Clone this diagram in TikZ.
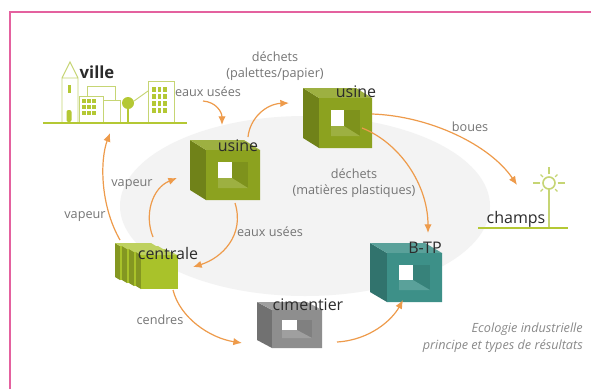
\documentclass[tikz,border=0pt]{standalone}
\usepackage{fontspec}
\setmainfont{Open Sans}
\usetikzlibrary{arrows.meta}

\definecolor{frame}{HTML}{E4619F}
\definecolor{flow}{HTML}{EE9B4B}
\definecolor{olive}{HTML}{8CA21F}
\definecolor{lime}{HTML}{A9C22A}
\definecolor{stone}{HTML}{8E8E8E}
\definecolor{sea}{HTML}{3D9088}
\definecolor{leaf}{HTML}{C6D574}
\definecolor{grass}{HTML}{B4C834}
\definecolor{ink}{HTML}{2B2B2B}
\definecolor{note}{HTML}{757575}
\definecolor{haze}{HTML}{F3F3F3}

% Hollow box seen from the upper left:
% #1,#2 front top-left corner, #3,#4 front width/height,
% #5,#6 shift towards the back face, #7 rim width, #8 colour
\newcommand{\hollowbox}[8]{%
  \fill[#8!80!black] ({#1},{#2}) -- ({#1-#5},{#2-#6}) -- ({#1-#5},{#2+#4-#6}) -- ({#1},{#2+#4}) -- cycle;
  \fill[#8!85!white] ({#1},{#2}) -- ({#1-#5},{#2-#6}) -- ({#1+#3-#5},{#2-#6}) -- ({#1+#3},{#2}) -- cycle;
  \fill[#8, even odd rule] ({#1},{#2}) rectangle ({#1+#3},{#2+#4})
       ({#1+#7},{#2+#7}) rectangle ({#1+#3-#7},{#2+#4-#7});
  \begin{scope}
    \clip ({#1+#7},{#2+#7}) rectangle ({#1+#3-#7},{#2+#4-#7});
    \fill[#8!90!black] ({#1+#7},{#2+#7}) rectangle ({#1+#3-#7},{#2+#4-#7});
    \fill[#8!85!white] ({#1+#7-#5},{#2+#4-#7-#6}) -- ({#1+#3-#7-#5},{#2+#4-#7-#6})
       -- ({#1+#3-#7},{#2+#4-#7}) -- ({#1+#7},{#2+#4-#7}) -- cycle;
    \fill[white] ({#1+#7},{#2+#7}) rectangle ({#1+#3-#7-#5},{#2+#4-#7-#6});
  \end{scope}}

\begin{document}
\begin{tikzpicture}[x=0.75pt,y=-0.75pt,
  flowarrow/.style={draw=flow, line width=0.9pt, -{Latex[length=6.5pt,width=5.5pt]}},
  thing/.style={text=ink, font=\fontsize{12}{14}\selectfont, inner sep=0pt},
  tag/.style={text=note, font=\fontsize{9.5}{12}\selectfont, inner sep=0pt, align=center},
  sketch/.style={draw=leaf, line width=0.7pt},
  pane/.style={fill=grass}]

\useasboundingbox (0,0) rectangle (591,389);
\fill[white] (0,0) rectangle (591,389);
\draw[frame, line width=0.8pt] (10,389) -- (10,12) -- (591,12);

% background halo
\fill[haze] (305,206) ellipse [x radius=138.75pt, y radius=67.5pt];

% --- town ---
\draw[sketch] (62,122) -- (62,78) -- (70,62) -- (78,78) -- (78,122) (62,78) -- (78,78);
\fill[pane] (68,85) rectangle (71,93);
\fill[pane, rounded corners=1.5pt] (66.5,110) rectangle (71.5,122);
\draw[sketch] (87,96) -- (87,86) -- (115,86) -- (115,100);
\draw[sketch] (79,122) -- (79,96) -- (103,96) -- (103,122);
\foreach \c in {0,1,2} \foreach \r in {0,1,2}
  \fill[pane] ({82+5*\c},{99+6*\r}) rectangle ++(3.5,4);
\draw[sketch] (103,100) -- (120,100) -- (120,122);
\fill[pane] (128,103) circle [radius=4.5pt];
\draw[grass, line width=1.4pt] (128,106) -- (128,122);
\draw[sketch] (134,101) -- (148,91);
\draw[sketch] (148,122) -- (148,81) -- (174,81) -- (174,122);
\foreach \c in {0,1,2} \foreach \r in {0,1,2,3}
  \fill[pane] ({152+5.5*\c},{87+7*\r}) rectangle ++(3.5,5);
\draw[grass, line width=2.2pt] (43,123) -- (187,123);
\node[thing, font=\fontsize{12.5}{14}\selectfont\bfseries] (ville) at (97,72) {ville};

% --- fields ---
\draw[leaf, line width=1.2pt] (549,183) circle [radius=4.5pt];
\foreach \a in {0,90,180,270}
  \draw[leaf, line width=1pt] ([shift={(\a:6.5pt)}]549,183) -- ([shift={(\a:12pt)}]549,183);
\foreach \a in {45,135,225,315}
  \draw[leaf, line width=1pt] ([shift={(\a:6.5pt)}]549,183) -- ([shift={(\a:9pt)}]549,183);
\draw[leaf, line width=1.2pt] (549,189) -- (549,228);
\draw[grass, line width=1.8pt] (478,228) -- (568,228);
\node[thing] (champs) at (516,219) {champs};

% --- plants ---
\hollowbox{206}{150}{54}{50}{16}{10}{12}{olive}
\node[thing] (usineA) at (238,146) {usine};
\hollowbox{319}{98}{53}{50}{16}{10}{12}{olive}
\node[thing] (usineB) at (356,92) {usine};
\hollowbox{272}{310}{50}{38}{15}{8}{10}{stone}
\node[thing] (cimentier) at (308,305) {cimentier};
\hollowbox{387}{253}{55}{49}{17}{10}{12}{sea}
\node[thing] (btp) at (425,248) {B-TP};

% power station: four stacked slabs
\foreach \i [evaluate=\i as \x using 120+7*\i, evaluate=\i as \y using 246+3*\i] in {0,...,3}{
  \fill[lime!78!black] ({\x-5},{\y-3}) -- (\x,\y) -- (\x,{\y+34}) -- ({\x-5},{\y+31}) -- cycle;
  \fill[lime!75!white] ({\x-5},{\y-3}) -- ({\x+31},{\y-3}) -- ({\x+36},\y) -- (\x,\y) -- cycle;
  \fill[lime] (\x,\y) rectangle ({\x+37},{\y+34});
}
\node[thing] (centrale) at (168,253) {centrale};

% --- flow labels ---
\node[tag] (l-eaux1) at (208,92) {eaux usées};
\node[tag] (l-dechets1) at (275,66) {déchets\\(palettes/papier)};
\node[tag] (l-boues) at (470,127) {boues};
\node[tag] (l-dechets2) at (354,183) {déchets\\(matières plastiques)};
\node[tag] (l-vapeur1) at (132,185) {vapeur};
\node[tag] (l-vapeur2) at (85,217) {vapeur};
\node[tag] (l-eaux2) at (270,232) {eaux usées};
\node[tag] (l-cendres) at (160,320) {cendres};

\node[text=note!85!white, font=\fontsize{9.5}{12.75}\selectfont\itshape, align=right,
      anchor=east, inner sep=0pt] (caption) at (583,338)
  {Ecologie industrielle\\principe et types de résultats};

% --- connector ends ---
\coordinate (villeOut) at (203,101);
\coordinate (usineAin) at (222,125);
\coordinate (usineAup) at (248,137);
\coordinate (usineBin) at (289,103);
\coordinate (usineBright) at (372,114);
\coordinate (champsIn) at (517,185);
\coordinate (usineBlow) at (362,128);
\coordinate (btpIn) at (428,233);
\coordinate (cimOut) at (337,342);
\coordinate (btpBelow) at (403,300);
\coordinate (centraleOut) at (173,290);
\coordinate (cimIn) at (242,343);
\coordinate (usineAlow) at (235,203);
\coordinate (centraleIn) at (193,267);
\coordinate (centraleUp) at (153,237);
\coordinate (usineAleft) at (177,178);
\coordinate (centraleOuter) at (120,240);
\coordinate (villeIn) at (110,133);

% --- flows ---
\draw[flowarrow] (villeOut) .. controls (216,102) and (222,112) .. (usineAin);
\draw[flowarrow] (usineAup) .. controls (250,118) and (266,104) .. (usineBin);
\draw[flowarrow] (usineBright) .. controls (430,116) and (490,145) .. (champsIn);
\draw[flowarrow] (usineBlow) .. controls (400,143) and (428,185) .. (btpIn);
\draw[flowarrow] (cimOut) .. controls (370,340) and (392,320) .. (btpBelow);
\draw[flowarrow] (centraleOut) .. controls (180,318) and (210,338) .. (cimIn);
\draw[flowarrow] (usineAlow) .. controls (245,235) and (222,258) .. (centraleIn);
\draw[flowarrow] (centraleUp) .. controls (144,215) and (152,188) .. (usineAleft);
\draw[flowarrow] (centraleOuter) .. controls (100,205) and (100,160) .. (villeIn);
\end{tikzpicture}
\end{document}
